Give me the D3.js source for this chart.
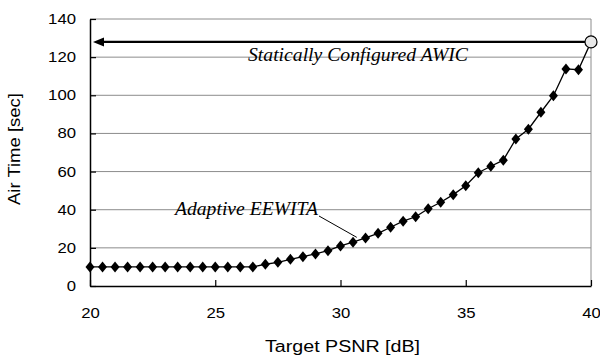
<!DOCTYPE html>
<html>
<head>
<meta charset="utf-8">
<script src="https://cdn.jsdelivr.net/npm/d3@7"></script>
<style>
  body { margin: 0; background: #fff; }
  svg { display: block; }
</style>
</head>
<body>
<script>
// Target PSNR (dB) for the adaptive curve, step of half a dB
var psnr = [20, 20.5, 21, 21.5, 22, 22.5, 23, 23.5, 24, 24.5,
            25, 25.5, 26, 26.5, 27, 27.5, 28, 28.5, 29, 29.5,
            30, 30.5, 31, 31.5, 32, 32.5, 33, 33.5, 34, 34.5,
            35, 35.5, 36, 36.5, 37, 37.5, 38, 38.5, 39, 39.5];
var airTime = [10, 10, 10, 10, 10, 10, 10, 10, 10, 10,
               10, 10, 10, 10, 11.4, 12.4, 14, 15.4, 16.8, 18.5,
               21, 23, 25.2, 27.6, 30.8, 34, 36.3, 40.5, 43.9, 47.9,
               52.6, 59.4, 62.8, 66, 77.1, 82.2, 91.1, 99.8, 113.8, 113.4];
// statically configured point
var staticPsnr = 40, staticTime = 128;

var xTicks = [20, 25, 30, 35, 40];
var yTicks = [0, 20, 40, 60, 80, 100, 120, 140];

var margin = {top: 19, right: 9, bottom: 74, left: 90},
    width = 600 - margin.left - margin.right,
    height = 360 - margin.top - margin.bottom;

var sans = "'Liberation Sans', Arial, sans-serif";
var serif = "'Liberation Serif', 'Times New Roman', serif";

var svg = d3.select("body").append("svg")
    .attr("width", 600)
    .attr("height", 360);

var g = svg.append("g")
    .attr("transform", "translate(" + margin.left + "," + margin.top + ")");

var x = d3.scaleLinear().domain([20, 40]).range([0, width]);
var y = d3.scaleLinear().domain([0, 140]).range([height, 0]);

// grid lines
g.selectAll(".grid").data(yTicks.slice(1))
  .enter().append("line")
    .attr("x1", 0).attr("x2", width)
    .attr("y1", d => y(d)).attr("y2", d => y(d))
    .attr("stroke", "#8c8c8c").attr("stroke-width", 1);

g.append("line")
    .attr("x1", width).attr("x2", width)
    .attr("y1", 0).attr("y2", height)
    .attr("stroke", "#8c8c8c");

// axes, ticks pointing in
var xAxis = g.append("g")
    .attr("transform", "translate(0," + height + ")")
    .call(d3.axisBottom(x).tickValues(xTicks).tickSizeInner(-6).tickSizeOuter(0).tickPadding(22));
var yAxis = g.append("g")
    .call(d3.axisLeft(y).tickValues(yTicks).tickSizeInner(-6).tickSizeOuter(0).tickPadding(14));

[xAxis, yAxis].forEach(function(a) {
  a.select(".domain").attr("stroke", "#000").attr("stroke-width", 1.5);
  a.selectAll(".tick line").attr("stroke", "#000").attr("stroke-width", 1.2);
  a.selectAll("text")
    .attr("font-family", sans)
    .attr("font-size", 14)
    .attr("fill", "#000")
    .attr("textLength", function() { return this.textContent.length * 9.3; })
    .attr("lengthAdjust", "spacingAndGlyphs");
});

// curve
var line = d3.line().x(d => x(d[0])).y(d => y(d[1]));
var pts = psnr.map((p, i) => [p, airTime[i]]);

g.append("path")
    .datum(pts.concat([[staticPsnr, staticTime]]))
    .attr("d", line)
    .attr("fill", "none")
    .attr("stroke", "#000")
    .attr("stroke-width", 1.3);

g.selectAll(".pt").data(pts)
  .enter().append("path")
    .attr("transform", d => "translate(" + x(d[0]) + "," + y(d[1]) + ")")
    .attr("d", "M0,-5.5L4.5,0L0,5.5L-4.5,0Z")
    .attr("fill", "#000");

// arrow for statically configured AWIC
var ay = y(staticTime), tip = x(20) + 3;
g.append("line")
    .attr("x1", x(staticPsnr) - 6).attr("x2", tip + 8)
    .attr("y1", ay).attr("y2", ay)
    .attr("stroke", "#000").attr("stroke-width", 2.2);
g.append("path")
    .attr("d", "M" + tip + "," + ay + "L" + (tip + 11) + "," + (ay - 4.5) +
               "L" + (tip + 11) + "," + (ay + 4.5) + "Z")
    .attr("fill", "#000");

g.append("circle")
    .attr("cx", x(staticPsnr)).attr("cy", ay)
    .attr("r", 6)
    .attr("fill", "#e8e8e8")
    .attr("stroke", "#000").attr("stroke-width", 1.2);

// annotations
g.append("text")
    .attr("x", 248 - margin.left).attr("y", 61 - margin.top)
    .attr("font-family", serif).attr("font-style", "italic")
    .attr("font-size", 18)
    .attr("textLength", 220).attr("lengthAdjust", "spacingAndGlyphs")
    .text("Statically Configured AWIC");

g.append("text")
    .attr("x", 175 - margin.left).attr("y", 215 - margin.top)
    .attr("font-family", serif).attr("font-style", "italic")
    .attr("font-size", 18)
    .attr("textLength", 143).attr("lengthAdjust", "spacingAndGlyphs")
    .text("Adaptive EEWITA");

g.append("line")
    .attr("x1", 319 - margin.left).attr("y1", 216 - margin.top)
    .attr("x2", x(30.65)).attr("y2", y(25.5))
    .attr("stroke", "#000").attr("stroke-width", 1);

// axis titles
svg.append("text")
    .attr("x", 342.5).attr("y", 352)
    .attr("text-anchor", "middle")
    .attr("font-family", sans)
    .attr("font-size", 16)
    .attr("textLength", 155).attr("lengthAdjust", "spacingAndGlyphs")
    .text("Target PSNR [dB]");

svg.append("text")
    .attr("transform", "translate(20,149) rotate(-90)")
    .attr("text-anchor", "middle")
    .attr("font-family", sans)
    .attr("font-size", 16)
    .attr("textLength", 112).attr("lengthAdjust", "spacingAndGlyphs")
    .text("Air Time [sec]");
</script>
</body>
</html>
